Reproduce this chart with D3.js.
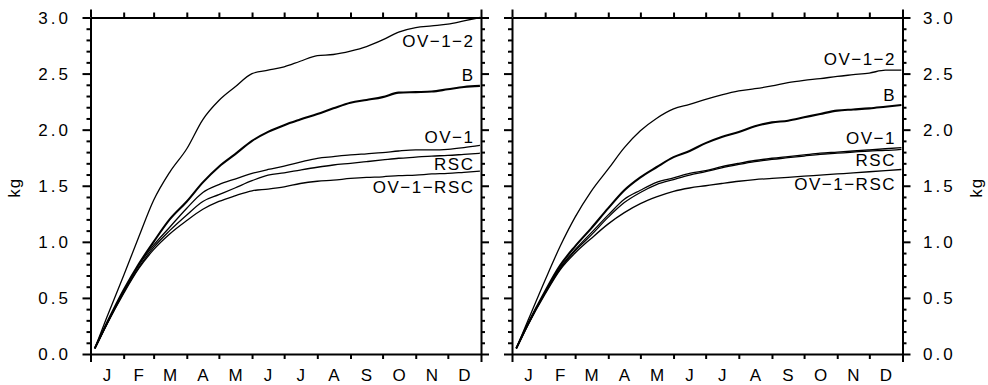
<!DOCTYPE html>
<html>
<head>
<meta charset="utf-8">
<script src="https://cdn.jsdelivr.net/npm/d3@7"></script>
<style>
  html, body { margin: 0; padding: 0; background: #fff; }
  svg { display: block; }
  text { font-family: "Liberation Sans", Arial, sans-serif; font-size: 17px; fill: #000; }
  text.ylab { letter-spacing: 3px; }
  text.name { letter-spacing: 1.5px; }
  text.unit { letter-spacing: 1px; }
</style>
</head>
<body>
<svg id="chart" width="988" height="385"></svg>
<script>
// Day of year at which each cumulative value is sampled
const days = [4, 15, 31, 45, 59, 74, 90, 105, 120, 135, 151, 166, 181, 196, 212, 227, 243, 258, 273, 288, 304, 319, 334, 349, 364];

// Month boundaries (day of year) and month initials
const monthStarts = [0, 31, 59, 90, 120, 151, 181, 212, 243, 273, 304, 334, 365];
const monthLabels = ["J", "F", "M", "A", "M", "J", "J", "A", "S", "O", "N", "D"];

// Y axis ticks (kg)
const yMajorTicks = [0, 0.5, 1.0, 1.5, 2.0, 2.5, 3.0];
const yMinorTicks = d3.range(0, 3.0001, 0.1);

const seriesNames = ["OV−1−2", "B", "OV−1", "RSC", "OV−1−RSC"];

// Left panel: cumulative mass (kg)
const leftOV12  = [0.05, 0.32, 0.70, 1.04, 1.37, 1.62, 1.83, 2.09, 2.26, 2.38, 2.50, 2.53, 2.56, 2.61, 2.66, 2.67, 2.70, 2.74, 2.80, 2.87, 2.91, 2.925, 2.94, 2.97, 3.00];
const leftB     = [0.05, 0.27, 0.57, 0.80, 1.00, 1.20, 1.36, 1.53, 1.67, 1.78, 1.90, 1.98, 2.04, 2.09, 2.14, 2.19, 2.24, 2.265, 2.29, 2.33, 2.335, 2.34, 2.36, 2.38, 2.39];
const leftOV1   = [0.05, 0.27, 0.56, 0.79, 0.97, 1.13, 1.30, 1.44, 1.51, 1.56, 1.61, 1.645, 1.675, 1.71, 1.745, 1.76, 1.775, 1.785, 1.795, 1.81, 1.82, 1.82, 1.825, 1.84, 1.86];
const leftRSC   = [0.05, 0.26, 0.55, 0.77, 0.95, 1.10, 1.24, 1.36, 1.42, 1.48, 1.545, 1.595, 1.615, 1.64, 1.665, 1.685, 1.70, 1.715, 1.73, 1.745, 1.755, 1.765, 1.77, 1.78, 1.79];
const leftOV1RSC = [0.05, 0.26, 0.54, 0.76, 0.93, 1.07, 1.19, 1.29, 1.36, 1.41, 1.455, 1.47, 1.49, 1.52, 1.54, 1.55, 1.565, 1.575, 1.58, 1.59, 1.595, 1.605, 1.61, 1.62, 1.63];

// Right panel: cumulative mass (kg)
const rightOV12  = [0.05, 0.30, 0.66, 0.96, 1.22, 1.45, 1.65, 1.84, 1.99, 2.10, 2.185, 2.225, 2.27, 2.31, 2.345, 2.365, 2.39, 2.42, 2.44, 2.455, 2.475, 2.49, 2.505, 2.53, 2.53];
const rightB     = [0.05, 0.27, 0.56, 0.79, 0.96, 1.12, 1.30, 1.46, 1.575, 1.665, 1.755, 1.81, 1.88, 1.935, 1.98, 2.03, 2.065, 2.08, 2.11, 2.14, 2.17, 2.18, 2.19, 2.205, 2.22];
const rightOV1   = [0.05, 0.27, 0.55, 0.77, 0.93, 1.08, 1.24, 1.38, 1.46, 1.53, 1.57, 1.61, 1.635, 1.67, 1.70, 1.725, 1.745, 1.76, 1.775, 1.79, 1.80, 1.81, 1.82, 1.83, 1.84];
const rightRSC   = [0.05, 0.265, 0.545, 0.76, 0.92, 1.06, 1.22, 1.35, 1.44, 1.51, 1.555, 1.595, 1.625, 1.66, 1.69, 1.715, 1.735, 1.75, 1.765, 1.78, 1.79, 1.80, 1.81, 1.815, 1.825];
const rightOV1RSC = [0.05, 0.26, 0.535, 0.75, 0.90, 1.03, 1.16, 1.26, 1.34, 1.40, 1.45, 1.48, 1.50, 1.52, 1.54, 1.555, 1.565, 1.575, 1.585, 1.595, 1.605, 1.615, 1.625, 1.635, 1.645];

// Vertical placement (kg) of each curve name at the right end of the panel
const leftLabelAt  = [2.79, 2.486, 1.937, 1.693, 1.491];
const rightLabelAt = [2.626, 2.308, 1.928, 1.73, 1.515];

const seriesWidths = [1.3, 2.1, 1.3, 1.3, 1.3];

const svg = d3.select("#chart");
const plotTop = 17.5, plotBottom = 354;

const panels = [
  { x0: 90.5, x1: 481, series: [leftOV12, leftB, leftOV1, leftRSC, leftOV1RSC], labelAt: leftLabelAt, labelSide: "left" },
  { x0: 512, x1: 902.5, series: [rightOV12, rightB, rightOV1, rightRSC, rightOV1RSC], labelAt: rightLabelAt, labelSide: "right" }
];

const y = d3.scaleLinear().domain([0, 3]).range([plotBottom, plotTop]);

panels.forEach(p => {
  const x = d3.scaleLinear().domain([0, 365]).range([p.x0, p.x1]);
  const g = svg.append("g");

  // Month ticks on bottom and top (longer at year ends)
  const tickLen = d => (d === 0 || d === 365) ? 8 : 5;
  const bottomAxis = d3.axisBottom(x).tickValues(monthStarts).tickFormat("").tickSizeOuter(0);
  const topAxis = d3.axisTop(x).tickValues(monthStarts).tickFormat("").tickSizeOuter(0);
  const gb = g.append("g").attr("transform", `translate(0,${plotBottom})`).call(bottomAxis);
  gb.selectAll(".tick line").attr("y2", d => tickLen(d));
  const gt = g.append("g").attr("transform", `translate(0,${plotTop})`).call(topAxis);
  gt.selectAll(".tick line").attr("y2", d => -tickLen(d));

  // Left and right value axes with minor ticks
  const isMajor = v => Math.abs(v * 2 - Math.round(v * 2)) < 1e-6;
  const leftAxis = d3.axisLeft(y).tickValues(yMinorTicks).tickFormat("").tickSizeOuter(0);
  const rightAxis = d3.axisRight(y).tickValues(yMinorTicks).tickFormat("").tickSizeOuter(0);
  const gl = g.append("g").attr("transform", `translate(${p.x0},0)`).call(leftAxis);
  gl.selectAll(".tick line").attr("x2", d => isMajor(d) ? -8 : -4);
  const gr = g.append("g").attr("transform", `translate(${p.x1},0)`).call(rightAxis);
  gr.selectAll(".tick line").attr("x2", d => isMajor(d) ? 8 : 4);

  g.selectAll(".domain").attr("stroke", "#000").attr("stroke-width", 2);
  g.selectAll(".tick line").attr("stroke", "#000").attr("stroke-width", 2);

  // Month initials centred in each month
  g.selectAll("text.month").data(monthLabels).join("text")
    .attr("class", "month")
    .attr("x", (d, i) => x((monthStarts[i] + monthStarts[i + 1]) / 2))
    .attr("y", 380.5)
    .attr("text-anchor", "middle")
    .text(d => d);

  // Value labels on the outer side
  if (p.labelSide === "left") {
    g.selectAll("text.ylab").data(yMajorTicks).join("text")
      .attr("class", "ylab")
      .attr("x", p.x0 - 19.5)
      .attr("y", d => y(d) + 6)
      .attr("text-anchor", "end")
      .text(d => d.toFixed(1));
    g.append("text").attr("class", "unit")
      .attr("transform", `translate(20,${(plotTop + plotBottom) / 2 + 2}) rotate(-90)`)
      .attr("text-anchor", "middle").text("kg");
  } else {
    g.selectAll("text.ylab").data(yMajorTicks).join("text")
      .attr("class", "ylab")
      .attr("x", p.x1 + 20.5)
      .attr("y", d => y(d) + 6)
      .attr("text-anchor", "start")
      .text(d => d.toFixed(1));
    g.append("text").attr("class", "unit")
      .attr("transform", `translate(982,${(plotTop + plotBottom) / 2 + 2}) rotate(-90)`)
      .attr("text-anchor", "middle").text("kg");
  }

  // Curves
  const line = d3.line().x((d, i) => x(days[i])).y(d => y(d)).curve(d3.curveMonotoneX);
  g.selectAll("path.series").data(p.series).join("path")
    .attr("class", "series")
    .attr("fill", "none")
    .attr("stroke", "#000")
    .attr("stroke-width", (d, i) => seriesWidths[i])
    .attr("stroke-linejoin", "round")
    .attr("d", line);

  // Curve names
  g.selectAll("text.name").data(seriesNames).join("text")
    .attr("class", "name")
    .attr("x", p.x1 - 6.5)
    .attr("y", (d, i) => y(p.labelAt[i]) + 6)
    .attr("text-anchor", "end")
    .text(d => d);
});
</script>
</body>
</html>
